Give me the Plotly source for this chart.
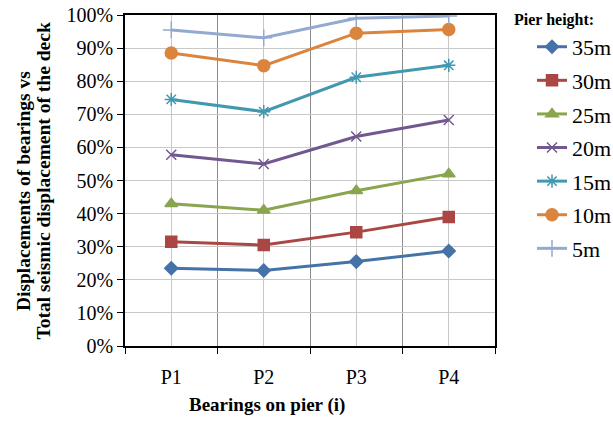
import plotly.graph_objects as go

categories = ["P1", "P2", "P3", "P4"]
series_names = ["35m", "30m", "25m", "20m", "15m", "10m", "5m"]
v35 = [23.5, 22.8, 25.5, 28.7]
v30 = [31.5, 30.5, 34.4, 39.0]
v25 = [43.0, 41.0, 46.9, 52.0]
v20 = [57.8, 55.0, 63.3, 68.3]
v15 = [74.5, 70.8, 81.2, 84.8]
v10 = [88.5, 84.7, 94.5, 95.6]
v5 = [95.5, 93.1, 99.0, 99.7]
values = [v35, v30, v25, v20, v15, v10, v5]
y_ticks = [0, 10, 20, 30, 40, 50, 60, 70, 80, 90, 100]
y_title_lines = ["Displacements of bearings vs", "Total seismic displacement of the deck"]
x_title = "Bearings on pier (i)"
legend_title = "Pier height:"

colors = ["#4572A7", "#AA4643", "#89A54E", "#71588F", "#4198AF", "#DB843D", "#93A9CF"]
symbols = ["diamond", "square", "triangle-up", "x-thin-open", "asterisk-open", "circle", "cross-thin-open"]
msizes = [10, 11, 11, 10, 11, 12, 12]

FONT = "Liberation Serif, Times New Roman, serif"
xs = list(range(len(categories)))

fig = go.Figure()
for name, vals, c, s, ms in zip(series_names, values, colors, symbols, msizes):
    fig.add_trace(go.Scatter(
        x=xs, y=vals, name=name, mode="lines+markers", legendgroup=name,
        line=dict(color=c, width=3),
        marker=dict(symbol=s, size=ms, color=c, line=dict(color=c, width=1.5)),
    ))

fig.add_annotation(
    text=f"<b>{legend_title}</b>", xref="paper", yref="paper",
    x=1.046, y=0.985, xanchor="left", yanchor="middle", showarrow=False,
    font=dict(family=FONT, size=16, color="black"),
)
for i, (line, yc) in enumerate(zip(y_title_lines, [0.468, 0.497])):
    fig.add_annotation(
        text=f"<b>{line}</b>", xref="paper", yref="paper",
        x=0, y=yc, xanchor="center", yanchor="middle", showarrow=False,
        textangle=-90, xshift=-102 + 20 * i,
        font=dict(family=FONT, size=19.5, color="black"),
    )
fig.add_annotation(
    text=f"<b>{x_title}</b>", xref="paper", yref="paper",
    x=0.384, y=0, xanchor="center", yanchor="middle", showarrow=False,
    yshift=-59,
    font=dict(family=FONT, size=19, color="black"),
)

fig.update_layout(
    width=613, height=421,
    margin=dict(l=125, r=118, t=15, b=75, autoexpand=False),
    paper_bgcolor="white", plot_bgcolor="white",
    font=dict(family=FONT, size=20, color="black"),
    showlegend=True,
    legend=dict(
        x=1.1, y=0.967, xanchor="left", yanchor="top",
        font=dict(family=FONT, size=22),
        tracegroupgap=2, itemwidth=30, maxheight=400,
        bgcolor="rgba(0,0,0,0)",
    ),
    xaxis=dict(
        range=[-0.5, 3.5],
        tickvals=xs, ticktext=categories,
        ticks="", showgrid=True, gridcolor="#C8C8C8", gridwidth=1,
        showline=True, linecolor="black", linewidth=1.5, mirror=True,
        tickfont=dict(family=FONT, size=20),
        ticklabelstandoff=12,
        minor=dict(tick0=0.5, dtick=1, ticks="outside", ticklen=6, tickcolor="black",
                   showgrid=True, gridcolor="#8C8C8C", gridwidth=1),
        zeroline=False,
    ),
    yaxis=dict(
        range=[0, 100], tickvals=y_ticks, ticktext=[f"{t}%" for t in y_ticks],
        ticks="outside", ticklen=6, tickcolor="black",
        showgrid=True, gridcolor="#C8C8C8", gridwidth=1,
        showline=True, linecolor="black", linewidth=1.5, mirror=True,
        tickfont=dict(family=FONT, size=20),
        zeroline=False,
    ),
)

fig.write_html("out.html")
